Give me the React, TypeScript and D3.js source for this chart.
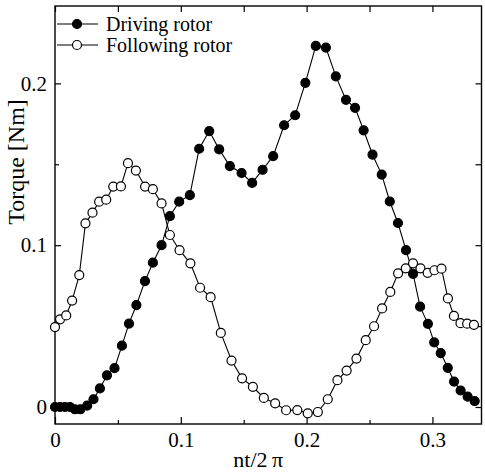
import React, { useEffect, useRef } from 'react';
import * as d3 from 'd3';

// values (nt/2pi, torque in Nm)
const drivingX = [0, 0.004, 0.0079, 0.0119, 0.0159, 0.0202, 0.0256, 0.0306, 0.0357, 0.0413, 0.0473, 0.0532, 0.0588, 0.0647, 0.0715, 0.0778, 0.0847, 0.0913, 0.0987, 0.1072, 0.1146, 0.1226, 0.1305, 0.139, 0.1483, 0.1567, 0.165, 0.1734, 0.1821, 0.1909, 0.199, 0.2073, 0.2153, 0.2232, 0.2313, 0.2385, 0.2453, 0.2524, 0.2597, 0.2661, 0.2726, 0.279, 0.2846, 0.2902, 0.2964, 0.3014, 0.3066, 0.3122, 0.3172, 0.3224, 0.328, 0.3336];
const drivingY = [0, 0, 0, 0, -0.0014, -0.0014, 0.0009, 0.0048, 0.0115, 0.0196, 0.024, 0.0379, 0.0515, 0.063, 0.0778, 0.0892, 0.1, 0.1179, 0.1269, 0.1309, 0.1596, 0.1705, 0.1592, 0.1489, 0.1446, 0.1385, 0.1466, 0.155, 0.1741, 0.1803, 0.2003, 0.2231, 0.2221, 0.2043, 0.1898, 0.1849, 0.171, 0.1559, 0.1436, 0.127, 0.1137, 0.0969, 0.0823, 0.062, 0.0514, 0.0399, 0.0333, 0.0242, 0.0157, 0.0102, 0.0064, 0.0037];

const followingX = [0, 0.004, 0.0089, 0.0136, 0.0193, 0.0242, 0.0298, 0.0351, 0.0407, 0.0463, 0.0524, 0.058, 0.0643, 0.0716, 0.0778, 0.0847, 0.0913, 0.099, 0.1076, 0.1153, 0.1237, 0.1318, 0.1403, 0.1487, 0.1573, 0.166, 0.175, 0.1837, 0.1926, 0.2009, 0.2089, 0.2168, 0.2245, 0.2318, 0.2396, 0.247, 0.2536, 0.26, 0.2665, 0.2727, 0.2788, 0.2846, 0.2905, 0.2962, 0.3016, 0.3072, 0.3123, 0.3171, 0.3223, 0.3276, 0.333];
const followingY = [0.0494, 0.0542, 0.0566, 0.0658, 0.0815, 0.1135, 0.1201, 0.1269, 0.1281, 0.1362, 0.1363, 0.1507, 0.1461, 0.1362, 0.1346, 0.1258, 0.1063, 0.0969, 0.0888, 0.0737, 0.0679, 0.0458, 0.0287, 0.0177, 0.0125, 0.0056, 0.0023, -0.002, -0.0019, -0.0039, -0.0031, 0.0048, 0.0166, 0.0225, 0.0299, 0.0413, 0.0499, 0.0609, 0.0711, 0.0826, 0.0857, 0.0888, 0.0857, 0.0829, 0.0845, 0.0855, 0.0671, 0.0563, 0.0518, 0.0515, 0.0508];

const xTicks = [0, 0.1, 0.2, 0.3];
const xMinorTicks = [0.05, 0.15, 0.25];
const yTicks = [0, 0.1, 0.2];
const yMinorTicks = [0.05, 0.15];
const legendLabels = ['Driving rotor', 'Following rotor'];

const FONT = "'Liberation Serif', 'Times New Roman', serif";

function TorqueChart() {
  const ref = useRef<SVGSVGElement>(null);

  useEffect(() => {
    const svg = d3.select(ref.current);
    svg.selectAll('*').remove();
    const margin = {top: 6, right: 3.5, bottom: 50, left: 55};
    const width = 485 - margin.left - margin.right;
    const height = 474 - margin.top - margin.bottom;

    const g = svg.append('g')
      .attr('transform', 'translate(' + margin.left + ',' + margin.top + ')');

    const x = d3.scaleLinear().domain([0, 0.339]).range([0, width]);
    const y = d3.scaleLinear().domain([-0.0105, 0.2478]).range([height, 0]);

    const styleAxis = (sel: any) => {
      sel.select('.domain').remove();
      sel.selectAll('line').attr('stroke', '#000').attr('stroke-width', 1.2);
      sel.attr('font-family', FONT).attr('font-size', 21);
      sel.selectAll('text').attr('fill', '#000');
    };

    // bottom
    g.append('g').attr('transform', 'translate(0,' + height + ')')
      .call(d3.axisBottom(x).tickValues(xTicks).tickSizeInner(-7).tickSizeOuter(0).tickPadding(8)
        .tickFormat((d: any) => String(d)))
      .call(styleAxis);
    g.append('g').attr('transform', 'translate(0,' + height + ')')
      .call(d3.axisBottom(x).tickValues(xMinorTicks).tickSizeInner(-4).tickSizeOuter(0).tickFormat(() => ''))
      .call(styleAxis);
    // top
    g.append('g')
      .call(d3.axisTop(x).tickValues(xTicks.concat(xMinorTicks)).tickSizeInner(-6).tickSizeOuter(0).tickFormat(() => ''))
      .call(styleAxis);
    // left
    g.append('g')
      .call(d3.axisLeft(y).tickValues(yTicks).tickSizeInner(-6).tickSizeOuter(0).tickPadding(8)
        .tickFormat((d: any) => String(d)))
      .call(styleAxis);
    g.append('g')
      .call(d3.axisLeft(y).tickValues(yMinorTicks).tickSizeInner(-4).tickSizeOuter(0).tickFormat(() => ''))
      .call(styleAxis);
    // right
    g.append('g').attr('transform', 'translate(' + width + ',0)')
      .call(d3.axisRight(y).tickValues(yTicks.concat(yMinorTicks)).tickSizeInner(-6).tickSizeOuter(0).tickFormat(() => ''))
      .call(styleAxis);

    g.append('rect')
      .attr('width', width).attr('height', height)
      .attr('fill', 'none').attr('stroke', '#000').attr('stroke-width', 1.4);

    const series = [
      {xs: drivingX, ys: drivingY, fill: '#000'},
      {xs: followingX, ys: followingY, fill: '#fff'},
    ];

    series.forEach(function(s) {
      const idx = d3.range(s.xs.length);
      g.append('path')
        .datum(idx)
        .attr('fill', 'none')
        .attr('stroke', '#000')
        .attr('stroke-width', 1.1)
        .attr('d', d3.line<number>()
          .x(function(i) { return x(s.xs[i]); })
          .y(function(i) { return y(s.ys[i]); }));
    });
    series.forEach(function(s) {
      g.append('g').selectAll('circle')
        .data(d3.range(s.xs.length))
        .join('circle')
        .attr('cx', function(i) { return x(s.xs[i]); })
        .attr('cy', function(i) { return y(s.ys[i]); })
        .attr('r', 4.5)
        .attr('fill', s.fill)
        .attr('stroke', '#000')
        .attr('stroke-width', 1.2);
    });

    // legend
    const legend = svg.append('g');
    legendLabels.forEach(function(label, i) {
      const ly = 24 + i * 21;
      legend.append('line')
        .attr('x1', 57).attr('x2', 98).attr('y1', ly).attr('y2', ly)
        .attr('stroke', '#000').attr('stroke-width', 1.2);
      legend.append('circle')
        .attr('cx', 77).attr('cy', ly).attr('r', 4.5)
        .attr('fill', series[i].fill).attr('stroke', '#000').attr('stroke-width', 1.2);
      legend.append('text')
        .attr('x', 106).attr('y', ly + 6.5)
        .attr('font-family', FONT).attr('font-size', 20)
        .text(label);
    });

    // axis titles
    svg.append('text')
      .attr('x', margin.left + x(0.1615)).attr('y', 467)
      .attr('text-anchor', 'middle')
      .attr('font-family', FONT).attr('font-size', 22)
      .text('nt/2\u2009\u03c0');
    svg.append('text')
      .attr('transform', 'translate(24,' + 162 + ') rotate(-90)')
      .attr('text-anchor', 'middle')
      .attr('font-family', FONT).attr('font-size', 24)
      .text('Torque [Nm]');
  }, []);

  return (
    <svg ref={ref} width="485" height="474" style={{position: 'absolute', left: 0, top: 0, background: '#fff'}} />
  );
}

export default function App() {
  return <TorqueChart />;
}
